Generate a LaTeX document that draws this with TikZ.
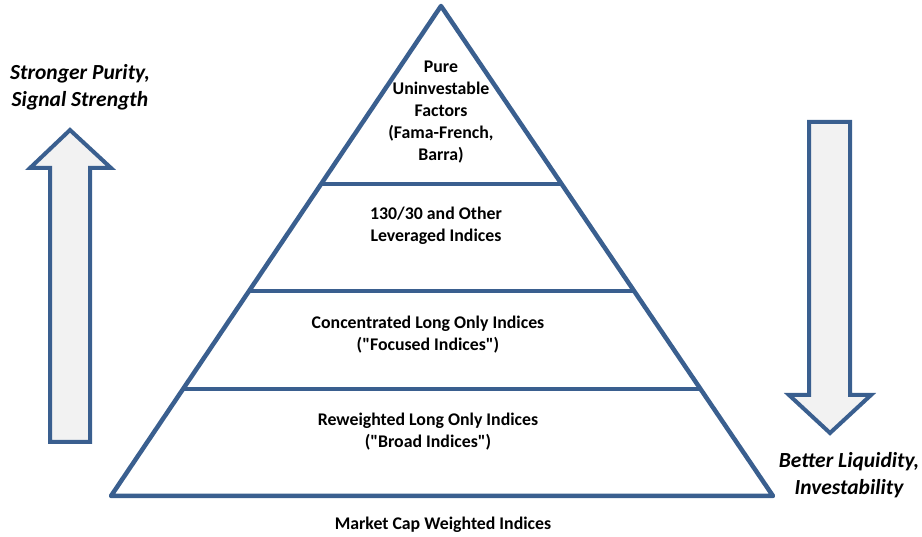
\documentclass[tikz,border=0pt]{standalone}
\usepackage{fontspec}
\setmainfont{Carlito}[Ligatures=TeXOff]
\usetikzlibrary{calc}
\definecolor{edge}{HTML}{3A5F8F}
\definecolor{shade}{HTML}{F2F2F2}
\begin{document}
\begin{tikzpicture}[x=1pt,y=-1pt,
  shape line/.style={draw=edge,line width=4.5pt,line join=round},
  fat arrow/.style={draw=edge,fill=shade,line width=4pt,line join=miter},
  tier/.style={font=\fontsize{17.8}{22}\selectfont\bfseries,align=center,inner sep=0pt},
  side/.style={font=\fontsize{21.5}{27}\selectfont\bfseries\itshape,align=center,inner sep=0pt}]
\useasboundingbox (0,0) rectangle (922,537);
% pyramid
\coordinate (apex) at (441,6);
\coordinate (bl) at (111,496);
\coordinate (br) at (773,496);
\draw[shape line] (apex) -- (bl) -- (br) -- cycle;
\draw[shape line] ($(apex)!0.363!(bl)$) coordinate (l1) -- ($(apex)!0.363!(br)$) coordinate (r1);
\draw[shape line] ($(apex)!0.582!(bl)$) coordinate (l2) -- ($(apex)!0.582!(br)$) coordinate (r2);
\draw[shape line] ($(apex)!0.782!(bl)$) coordinate (l3) -- ($(apex)!0.782!(br)$) coordinate (r3);
% texts
\node[tier] (t1) at (441,112) {Pure\\Uninvestable\\Factors\\(Fama-French,\\Barra)};
\node[tier] (t2) at (436,226) {130/30 and Other\\Leveraged Indices};
\node[tier] (t3) at (428,335) {Concentrated Long Only Indices\\("Focused Indices")};
\node[tier] (t4) at (428,432) {Reweighted Long Only Indices\\("Broad Indices")};
\node[tier] (t5) at (443,525) {Market Cap Weighted Indices};
\node[side] (s1) at (80,87) {Stronger Purity,\\Signal Strength};
\node[side] (s2) at (849,475) {Better Liquidity,\\Investability};
% arrows
\draw[fat arrow] (50,442) -- (50,168) -- (30,168) -- (70,130) -- (111,168) -- (90,168) -- (90,442) -- cycle;
\draw[fat arrow] (809,122) -- (850,122) -- (850,395) -- (871,395) -- (830,433) -- (789,395) -- (809,395) -- cycle;
\end{tikzpicture}
\end{document}
